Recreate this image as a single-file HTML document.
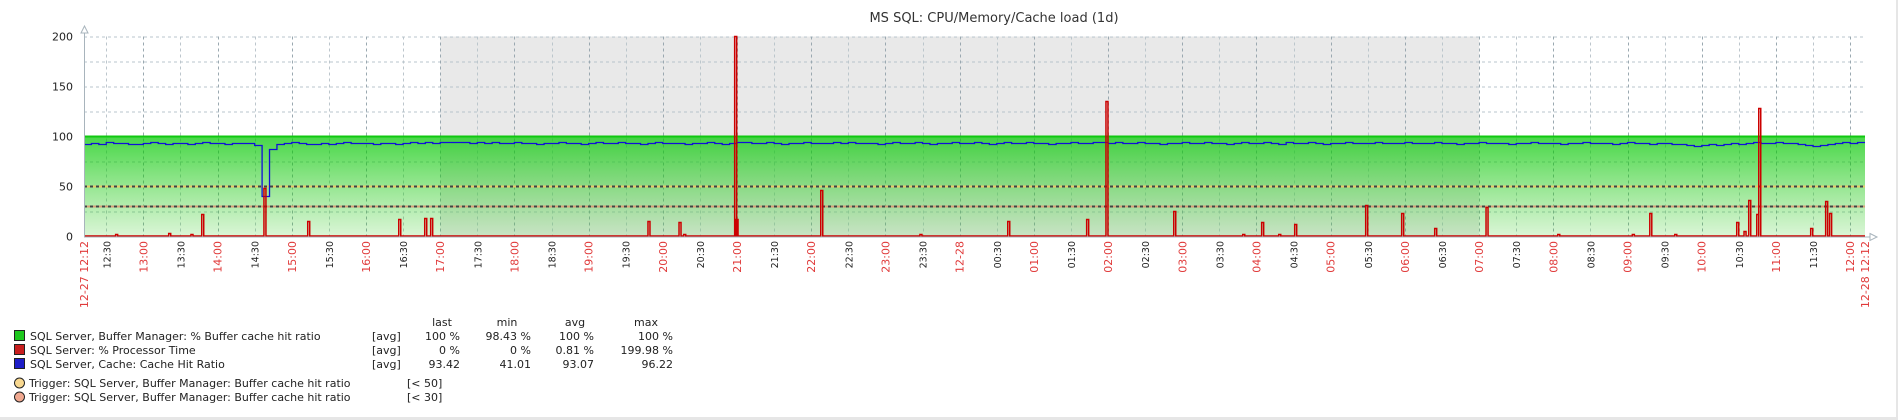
<!DOCTYPE html>
<html><head><meta charset="utf-8"><style>
html,body{margin:0;padding:0;background:#fff;}
svg{display:block;font-family:"DejaVu Sans","Liberation Sans",sans-serif;}
</style></head><body>
<svg id="chart" width="1898" height="420" viewBox="0 0 1898 420" xmlns="http://www.w3.org/2000/svg">
<defs>
<linearGradient id="gfill" x1="0" y1="0" x2="0" y2="1">
<stop offset="0" stop-color="rgb(0,200,0)" stop-opacity="0.72"/>
<stop offset="1" stop-color="rgb(40,200,20)" stop-opacity="0.17"/>
</linearGradient>
</defs>
<rect x="0" y="0" width="1898" height="420" fill="#fff"/>
<rect x="0" y="417" width="1898" height="3" fill="#e6e6e6"/>
<rect x="1896" y="0" width="2" height="420" fill="#e6e6e6"/>
<text x="994" y="22" font-size="13" text-anchor="middle" fill="#333">MS SQL: CPU/Memory/Cache load (1d)</text>
<g id="plot"></g>
<g id="legend" font-size="11" fill="#222">
<text x="442" y="326" text-anchor="middle">last</text>
<text x="507" y="326" text-anchor="middle">min</text>
<text x="575" y="326" text-anchor="middle">avg</text>
<text x="646" y="326" text-anchor="middle">max</text>
<g>
<rect x="14.5" y="330.5" width="10" height="10" fill="#1ec81e" stroke="#222"/>
<text x="30" y="340">SQL Server, Buffer Manager: % Buffer cache hit ratio</text>
<text x="372" y="340">[avg]</text>
<text x="460" y="340" text-anchor="end">100 %</text><text x="531" y="340" text-anchor="end">98.43 %</text>
<text x="594" y="340" text-anchor="end">100 %</text><text x="673" y="340" text-anchor="end">100 %</text>
</g>
<g>
<rect x="14.5" y="344.5" width="10" height="10" fill="#c81e1e" stroke="#222"/>
<text x="30" y="354">SQL Server: % Processor Time</text>
<text x="372" y="354">[avg]</text>
<text x="460" y="354" text-anchor="end">0 %</text><text x="531" y="354" text-anchor="end">0 %</text>
<text x="594" y="354" text-anchor="end">0.81 %</text><text x="673" y="354" text-anchor="end">199.98 %</text>
</g>
<g>
<rect x="14.5" y="358.5" width="10" height="10" fill="#1e1ec8" stroke="#222"/>
<text x="30" y="368">SQL Server, Cache: Cache Hit Ratio</text>
<text x="372" y="368">[avg]</text>
<text x="460" y="368" text-anchor="end">93.42</text><text x="531" y="368" text-anchor="end">41.01</text>
<text x="594" y="368" text-anchor="end">93.07</text><text x="673" y="368" text-anchor="end">96.22</text>
</g>
<g>
<circle cx="19.5" cy="383" r="5" fill="#f8d890" stroke="#222"/>
<text x="29" y="387">Trigger: SQL Server, Buffer Manager: Buffer cache hit ratio</text>
<text x="407" y="387">[&lt; 50]</text>
</g>
<g>
<circle cx="19.5" cy="397" r="5" fill="#f0a890" stroke="#222"/>
<text x="29" y="401">Trigger: SQL Server, Buffer Manager: Buffer cache hit ratio</text>
<text x="407" y="401">[&lt; 30]</text>
</g>
</g>
</svg>
<script>
// data
const yTicks = [0, 50, 100, 150, 200];
const bufferValue = 100;
const triggerLevels = [50, 30];
// cpu spikes: minutes from 12:12 start, value
const cpuMinutes = [26.4,69.3,87.3,96,146.3,181.7,255.3,276.3,281.1,456.8,481.9,485.7,526.9,528,596.5,676.7,747.7,811.5,827.1,881.9,937.7,953,966.8,979.7,1037.1,1066.2,1092.9,1134.4,1192.4,1252.7,1266.8,1287,1337.1,1343,1346.8,1353.3,1354.9,1396.9,1409,1412.2];
const cpuValues  = [2,3,2,22,48,15,17,18,18,15,14,2,200,17,46,2,15,17,135,25,2,14,2,12,31,23,8,29,2,2,23,2,14,5,36,22,128,8,35,23];
// cache hit ratio, one sample every 6 minutes (240 samples)
const cacheStep = 6;
const cacheValues = [
92.6,93.4,92.6,94.2,93.4,93.4,92.6,92.6,93.4,94.2,
93.4,92.6,93.4,93.4,92.6,93.4,94.4,93.4,93.4,92.6,
93.4,93.4,93.4,92,41,88,92.6,93.4,94.2,93.4,
92.6,92.6,93.4,92.6,93.4,94.2,93.4,93.4,93.4,92.6,
93.4,93.4,92.6,93.4,94.2,93.4,94.2,93.4,94.2,95,
94.2,94.2,93.4,94.2,93.4,94.2,93.4,93.4,94.2,93.4,
93.4,92.6,93.4,93.4,94.2,93.4,93.4,92.6,93.4,94.2,
93.4,93.4,94.2,93.4,93.4,92.6,93.4,94.2,93.4,93.4,
93.4,92.6,93.4,93.4,94.2,93.4,92.6,93.4,94.2,94.2,
93.4,93.4,94.2,93.4,92.6,93.4,93.4,94.2,93.4,93.4,
93.4,94.2,93.4,94.2,93.4,93.4,93.4,92.6,93.4,94.2,
93.4,93.4,94.2,93.4,92.6,93.4,93.4,94.2,93.4,93.4,
94.2,93.4,92.6,93.4,94.2,93.4,93.4,94.2,93.4,93.4,
92.6,93.4,93.4,94.2,93.4,93.4,94.2,94.2,93.4,94.2,
93.4,93.4,94.2,93.4,93.4,92.6,93.4,93.4,94.2,93.4,
93.4,94.2,93.4,93.4,92.6,93.4,94.2,93.4,93.4,94.2,
93.4,92.6,94.2,93.4,93.4,94.2,93.4,92.6,93.4,93.4,
94.2,93.4,93.4,93.4,94.2,93.4,93.4,93.4,94.2,93.4,
93.4,93.4,94.2,93.4,93.4,92.6,93.4,93.4,94.2,93.4,
93.4,93.4,92.6,93.4,93.4,94.2,93.4,93.4,93.4,92.6,
93.4,93.4,94.2,93.4,93.4,93.4,92.6,93.4,94.2,93.4,
93.4,92.6,93.4,93.4,92.6,92.6,91.8,91,91.8,92.6,
91.8,92.6,93.4,92.6,93.4,94.2,93.4,93.4,94.2,93.4,
93.4,92.6,91.8,91,91.8,92.6,93.4,94.2,93.4,94.2
];

const X0=84, X1=1865, Y0=236.5, TOTAL=1440, START=12*60+12;
const sx = m => X0 + (m/TOTAL)*(X1-X0);
const sy = v => Y0 - v*(200/200);
const NS="http://www.w3.org/2000/svg";
const plot=document.getElementById('plot');
function mk(tag, attrs, parent){const e=document.createElementNS(NS,tag);for(const k in attrs)e.setAttribute(k,attrs[k]);(parent||plot).appendChild(e);return e;}

// night shading 17:00 -> 07:00
const nStart=(17*60)-START, nEnd=(24*60+7*60)-START;
let r=mk('rect',{x:sx(nStart),y:sy(200),width:sx(nEnd)-sx(nStart),height:Y0-sy(200),fill:'#e9e9e9'});



// grid
for(let v=25; v<=200; v+=25){
  let l=mk('line',{x1:X0,x2:X1,y1:sy(v)+0.5,y2:sy(v)+0.5,stroke:'#b8c4cc','stroke-dasharray':'3,3','stroke-width':1});
  
  
}
const firstTick = 18; // 12:30
for(let m=firstTick; m<TOTAL; m+=30){
  const x=Math.round(sx(m))+0.5;
  const hour = ((START+m)%60)===0;
  let l=mk('line',{x1:x,x2:x,y1:sy(200),y2:Y0,stroke:hour?'#9aa8b0':'#bcc6cc','stroke-dasharray':'3,3','stroke-width':1});
  
  
}

// green area (buffer cache hit ratio)
let a=mk('rect',{x:X0,y:sy(bufferValue),width:X1-X0,height:Y0-sy(bufferValue),fill:'url(#gfill)'});


let al=mk('line',{x1:X0,x2:X1,y1:sy(bufferValue),y2:sy(bufferValue),stroke:'#10c810','stroke-width':2});



// trigger lines
const trigColors=['#e8c868','#d8a078'];
triggerLevels.forEach((v,i)=>{
  let t=mk('line',{x1:X0,x2:X1,y1:sy(v),y2:sy(v),stroke:trigColors[i],'stroke-width':2});
  
  
  let d=mk('line',{x1:X0,x2:X1,y1:sy(v),y2:sy(v),stroke:'#444','stroke-width':2,'stroke-dasharray':'3,3'});
  
  
});

// cache hit ratio step line
let pts=[];
cacheValues.forEach((v,i)=>{
  const xa=sx(i*cacheStep);
  const xb=sx(Math.min((i+1)*cacheStep,TOTAL));
  const yv=Math.round(sy(v))+0.5;
  pts.push(xa+','+yv,xb+','+yv);
});
let cl=mk('polyline',{points:pts.join(' '),fill:'none',stroke:'#1010d8','stroke-width':1.3});



// cpu line
let cp=[X0+','+(Y0-0.5)];
cpuMinutes.forEach((m,i)=>{const x=sx(m);cp.push((x-1)+','+(Y0-0.5),(x-1)+','+sy(cpuValues[i]),(x+1)+','+sy(cpuValues[i]),(x+1)+','+(Y0-0.5));});
cp.push(X1+','+(Y0-0.5));
let cpl=mk('polyline',{points:cp.join(' '),fill:'none',stroke:'#cc0000','stroke-width':1.5});



// axes
let ya=mk('line',{x1:X0+0.5,x2:X0+0.5,y1:30,y2:Y0+1,stroke:'#a8b4bc','stroke-width':1});


let yarr=mk('path',{d:`M${X0-3} 33 L${X0+0.5} 26 L${X0+4} 33 Z`,fill:'#fff',stroke:'#a8b4bc'});


let xa=mk('line',{x1:X0,x2:X1+8,y1:Y0+0.5,y2:Y0+0.5,stroke:'#a8b4bc','stroke-width':1});


let xarr=mk('path',{d:`M${X1+5} ${Y0-3} L${X1+12} ${Y0+0.5} L${X1+5} ${Y0+4} Z`,fill:'#fff',stroke:'#a8b4bc'});



// y labels
yTicks.forEach(v=>{
  let t=mk('text',{x:73,y:sy(v)+4,'font-size':11,'text-anchor':'end',fill:'#222'});
  t.textContent=v;
  
  
});

// x labels
function xlabel(m,txt,red){
  const x=sx(m)+4;
  let t=mk('text',{x:0,y:0,'font-size':red?11:9.5,'text-anchor':'end',fill:red?'#e03a3a':'#222',transform:`translate(${x},241) rotate(-90)`});
  t.textContent=txt;
  
  
}
xlabel(0,'12-27 12:12',true);
for(let m=firstTick;m<TOTAL;m+=30){
  const abs=(START+m)%1440, h=Math.floor(abs/60), mm=abs%60;
  if(abs===0){xlabel(m,'12-28',true);continue;}
  const txt=String(h).padStart(2,'0')+':'+String(mm).padStart(2,'0');
  xlabel(m,txt,mm===0);
}
xlabel(TOTAL,'12-28 12:12',true);
</script>
</body></html>
